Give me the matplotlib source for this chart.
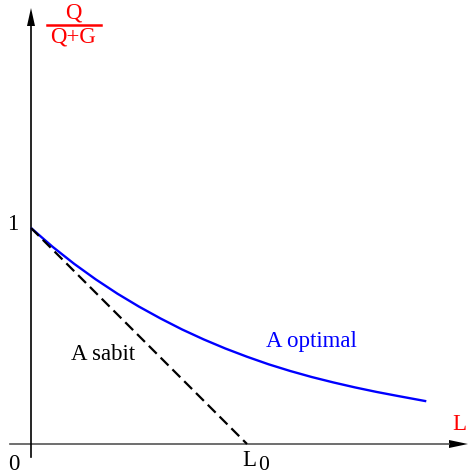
import matplotlib
matplotlib.use("Agg")
import matplotlib.pyplot as plt

plt.rcParams['font.family'] = ['Liberation Serif', 'DejaVu Serif']
plt.rcParams['mathtext.fontset'] = 'stix'

# optimal curve Q/(Q+G) versus L
L_opt = [0.0, 0.1, 0.2, 0.3, 0.4, 0.5, 0.6, 0.7, 0.8, 0.9, 1.0,
         1.1, 1.2, 1.3, 1.4, 1.5, 1.6, 1.7, 1.83]
Q_opt = [1.000, 0.913, 0.834, 0.762, 0.696, 0.636, 0.581, 0.530, 0.484, 0.442, 0.404,
         0.369, 0.338, 0.310, 0.285, 0.262, 0.241, 0.222, 0.198]

# fixed case: straight drop to zero at L0
L_sabit = [0.0, 1.0]
Q_sabit = [1.0, 0.0]

S = 216.0  # pixels per unit
fig = plt.figure(figsize=(4.68, 4.75), dpi=100)
ax = fig.add_axes([0, 0, 1, 1])
ax.set_xlim(-31 / S, 437 / S)
ax.set_ylim(-31 / S, 444 / S)
ax.axis('off')

# axes with arrow heads
ax.plot([-21 / S, 418 / S], [0, 0], color='#555555', lw=1.2)
ax.fill([418 / S, 437 / S, 418 / S], [4 / S, 0, -4 / S], color='black', lw=0)
ax.plot([0, 0], [-13 / S, 418 / S], color='black', lw=1.2)
ax.fill([-4 / S, 0, 4 / S], [418 / S, 436 / S, 418 / S], color='black', lw=0)

ax.plot(L_opt, Q_opt, color='#0000ff', lw=1.7, solid_capstyle='butt')
ax.plot(L_sabit, Q_sabit, color='black', lw=1.6, dashes=(5, 2.5))

fs = 16.5
ax.text(-18 / S, 1.0 + 3 / S, '1', fontsize=fs, ha='center', va='center')
ax.text(-17 / S, -20 / S, '0', fontsize=fs, ha='center', va='center')
ax.text(1.0 + 2 / S, -17 / S, 'L', fontsize=fs, ha='center', va='center')
ax.text(1.0 + 17 / S, -21 / S, '0', fontsize=fs - 1, ha='center', va='center')
ax.text(428 / S, 19 / S, 'L', fontsize=fs, color='red', ha='center', va='center')
ax.text(72 / S, 89 / S, 'A sabit', fontsize=fs, ha='center', va='center')
ax.text(280 / S, 102 / S, 'A optimal', fontsize=fs, color='#0000ff', ha='center', va='center')

# y-axis label as a stacked fraction
ax.text(42 / S, 431 / S, 'Q', fontsize=fs, color='red', ha='center', va='center')
ax.plot([16 / S, 70 / S], [419 / S, 419 / S], color='red', lw=1.8)
ax.text(42 / S, 407 / S, 'Q+G', fontsize=fs, color='red', ha='center', va='center')

fig.savefig('out.png', dpi=100)
